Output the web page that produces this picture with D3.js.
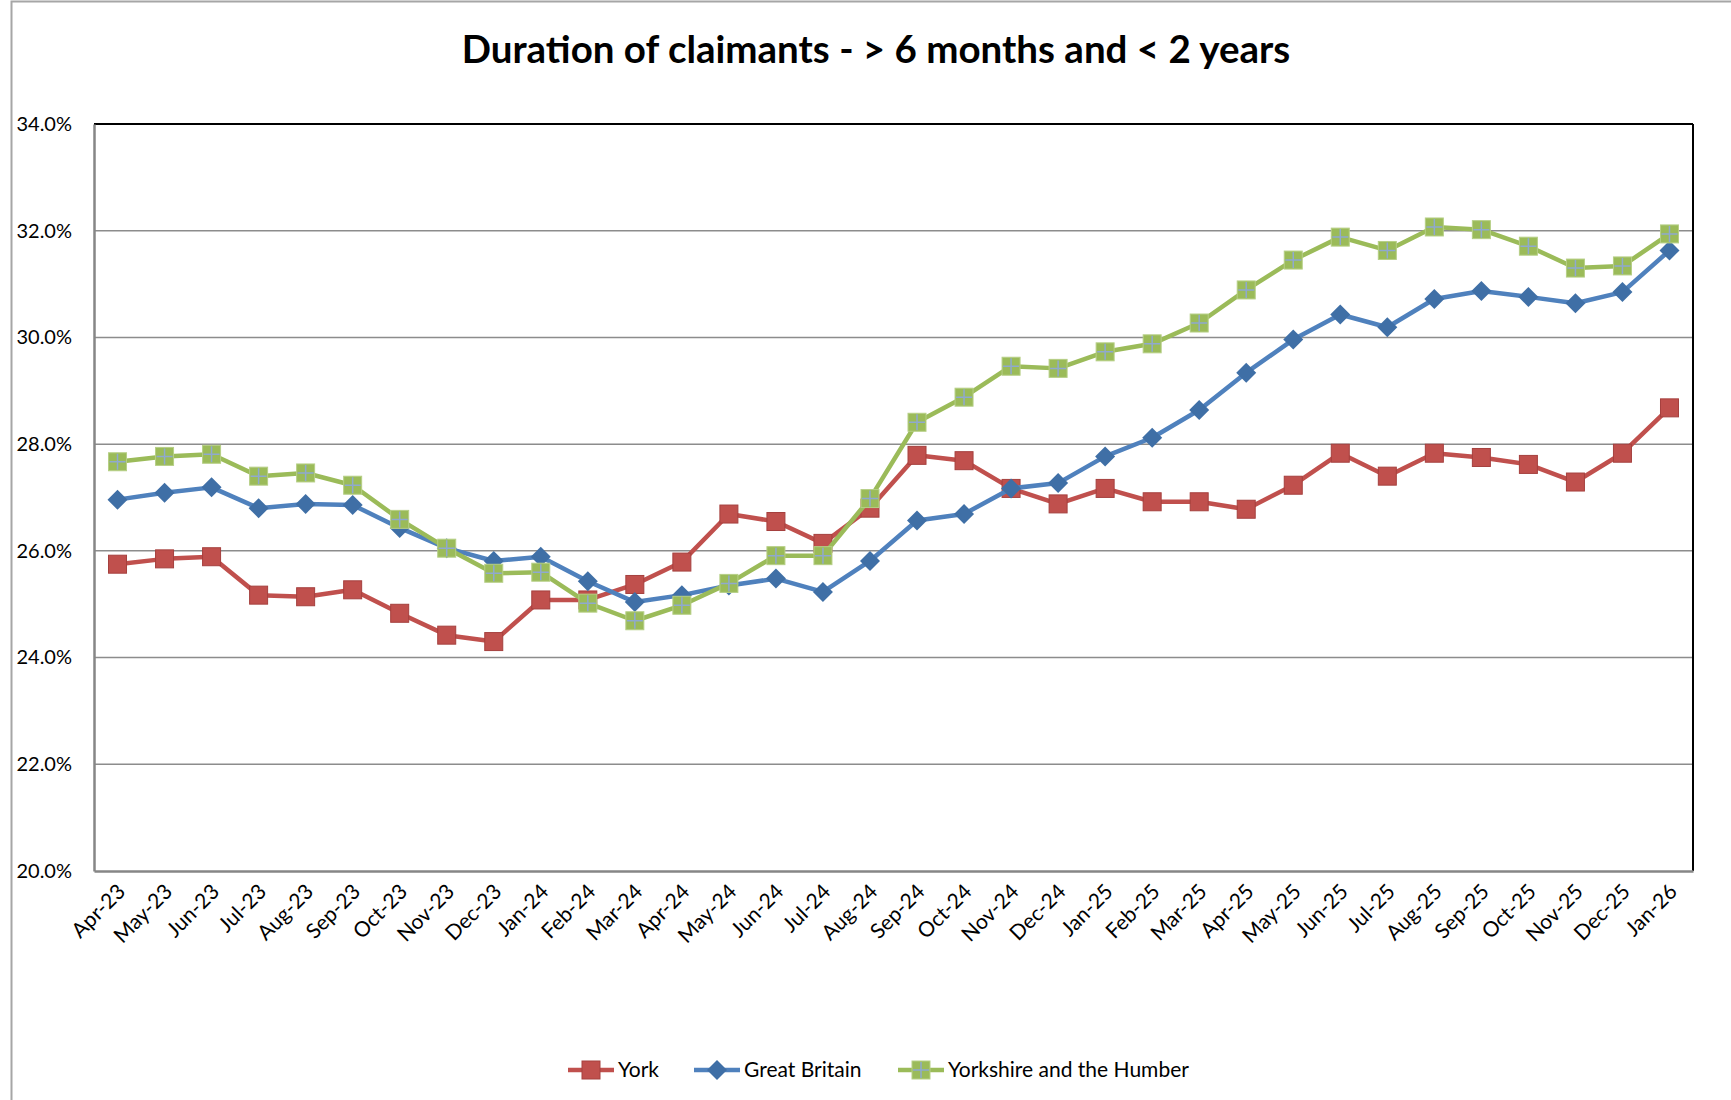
<!DOCTYPE html>
<html>
<head>
<meta charset="utf-8">
<script src="https://cdn.jsdelivr.net/npm/d3@7"></script>
<style>
  body { margin: 0; background: #fff; }
  svg { font-family: Lato, "Open Sans", sans-serif; }
</style>
</head>
<body>
<div id="chart"></div>
<script>
// Duration of claimants line chart

const months = ["Apr-23","May-23","Jun-23","Jul-23","Aug-23","Sep-23","Oct-23","Nov-23","Dec-23",
  "Jan-24","Feb-24","Mar-24","Apr-24","May-24","Jun-24","Jul-24","Aug-24","Sep-24","Oct-24","Nov-24","Dec-24",
  "Jan-25","Feb-25","Mar-25","Apr-25","May-25","Jun-25","Jul-25","Aug-25","Sep-25","Oct-25","Nov-25","Dec-25",
  "Jan-26"];

const york = [25.75,25.85,25.89,25.17,25.14,25.27,24.83,24.42,24.30,
  25.08,25.08,25.37,25.79,26.69,26.55,26.14,26.80,27.79,27.69,27.17,26.88,
  27.17,26.92,26.92,26.78,27.23,27.83,27.40,27.83,27.75,27.62,27.29,27.83,
  28.68];

const greatBritain = [26.96,27.09,27.19,26.80,26.88,26.86,26.43,26.05,25.81,
  25.89,25.43,25.04,25.17,25.35,25.48,25.23,25.81,26.57,26.69,27.17,27.27,
  27.77,28.12,28.64,29.34,29.96,30.43,30.19,30.72,30.87,30.76,30.64,30.85,
  31.63];

const yorkshire = [27.67,27.77,27.81,27.40,27.46,27.23,26.59,26.05,25.58,
  25.60,25.02,24.69,24.98,25.39,25.91,25.91,26.98,28.41,28.88,29.46,29.42,
  29.73,29.88,30.27,30.89,31.45,31.88,31.63,32.07,32.02,31.71,31.30,31.34,
  31.94];

const yTicks = [20, 22, 24, 26, 28, 30, 32, 34];

const series = [
  { name: "York", values: york, color: "#C0504D", marker: "square" },
  { name: "Great Britain", values: greatBritain, color: "#4F81BD", marker: "diamond" },
  { name: "Yorkshire and the Humber", values: yorkshire, color: "#9BBB59", marker: "plus" }
];

const width = 1731, height = 1100,
  margin = ({ top: 124, right: 38, bottom: 229, left: 94 });

const svg = d3.select("#chart")
  .append("svg")
  .attr("width", width)
  .attr("height", height);

// outer chart border
svg.append("rect")
  .attr("x", 11.5).attr("y", 1.5)
  .attr("width", width + 20).attr("height", height + 20)
  .attr("fill", "none")
  .attr("stroke", "#a6a6a6")
  .attr("stroke-width", 2);

svg.append("text")
  .attr("x", 876)
  .attr("y", 63)
  .attr("text-anchor", "middle")
  .attr("font-size", 38.5)
  .attr("font-weight", "bold")
  .text("Duration of claimants - > 6 months and < 2 years");

let x = d3.scaleBand()
  .domain(months)
  .range([margin.left, width - margin.right]);

let y = d3.scaleLinear()
  .domain([20, 34])
  .range([height - margin.bottom, margin.top]);

// gridlines
svg.append("g")
  .selectAll("line")
  .data(yTicks.slice(1, -1))
  .join("line")
  .attr("x1", margin.left)
  .attr("x2", width - margin.right)
  .attr("y1", d => y(d))
  .attr("y2", d => y(d))
  .attr("stroke", "#8c8c8c")
  .attr("stroke-width", 1.5);

// plot frame: top and right black, axes grey
svg.append("line")
  .attr("x1", margin.left).attr("x2", width - margin.right)
  .attr("y1", y(34)).attr("y2", y(34))
  .attr("stroke", "#000").attr("stroke-width", 2);
svg.append("line")
  .attr("x1", width - margin.right).attr("x2", width - margin.right)
  .attr("y1", y(34)).attr("y2", y(20))
  .attr("stroke", "#000").attr("stroke-width", 2);

// y axis
svg.append("g")
  .attr("transform", `translate(${margin.left},0)`)
  .call(d3.axisLeft(y).tickValues(yTicks).tickSize(0).tickPadding(22)
    .tickFormat(d => d.toFixed(1) + "%"))
  .call(g => g.select(".domain").attr("stroke", "#868686").attr("stroke-width", 2.5))
  .call(g => g.selectAll("text")
    .attr("font-family", "Lato, sans-serif")
    .attr("font-size", 20)
    .attr("fill", "#000"));

// x axis
svg.append("g")
  .attr("transform", `translate(0,${height - margin.bottom})`)
  .call(d3.axisBottom(x).tickSize(0).tickSizeOuter(0))
  .call(g => g.select(".domain").attr("stroke", "#868686").attr("stroke-width", 2.5))
  .call(g => g.selectAll("text")
    .attr("font-family", "Lato, sans-serif")
    .attr("font-size", 21)
    .attr("fill", "#000")
    .attr("text-anchor", "end")
    .attr("dy", 0)
    .attr("y", 0)
    .attr("transform", "translate(9,22) rotate(-45)"));

const line = d3.line()
  .x((d, i) => x(months[i]) + x.bandwidth() / 2)
  .y(d => y(d));

function drawMarker(g, type, color) {
  if (type === "square") {
    g.append("rect").attr("x", -9).attr("y", -9).attr("width", 18).attr("height", 18)
      .attr("fill", color).attr("stroke", "#a5403e").attr("stroke-width", 1);
  } else if (type === "diamond") {
    g.append("path").attr("d", "M0,-10L10,0L0,10L-10,0Z")
      .attr("fill", "#3f6fa6");
  } else {
    g.append("rect").attr("x", -9).attr("y", -9).attr("width", 18).attr("height", 18)
      .attr("fill", color).attr("stroke", "#b6cf86").attr("stroke-width", 1);
    g.append("path").attr("d", "M0,-8V8M-8,0H8")
      .attr("stroke", "#8fa9cf").attr("stroke-width", 1.5);
  }
}

for (let s of series) {
  svg.append("path")
    .datum(s.values)
    .attr("d", line)
    .attr("fill", "none")
    .attr("stroke", s.color)
    .attr("stroke-width", 4.5)
    .attr("stroke-linejoin", "round");

  svg.append("g")
    .selectAll("g")
    .data(s.values)
    .join("g")
    .attr("transform", (d, i) => `translate(${x(months[i]) + x.bandwidth() / 2},${y(d)})`)
    .each(function () { drawMarker(d3.select(this), s.marker, s.color); });
}

// legend
const legendX = [568, 694, 898];
const legend = svg.append("g");
series.forEach((s, i) => {
  const g = legend.append("g").attr("transform", `translate(${legendX[i]},1070)`);
  g.append("line").attr("x1", 0).attr("x2", 46).attr("stroke", s.color).attr("stroke-width", 4.5);
  const m = g.append("g").attr("transform", "translate(23,0)");
  drawMarker(m, s.marker, s.color);
  g.append("text")
    .attr("x", 50).attr("y", 0).attr("dy", "0.35em")
    .attr("font-size", 21)
    .text(s.name);
});
</script>
</body>
</html>
